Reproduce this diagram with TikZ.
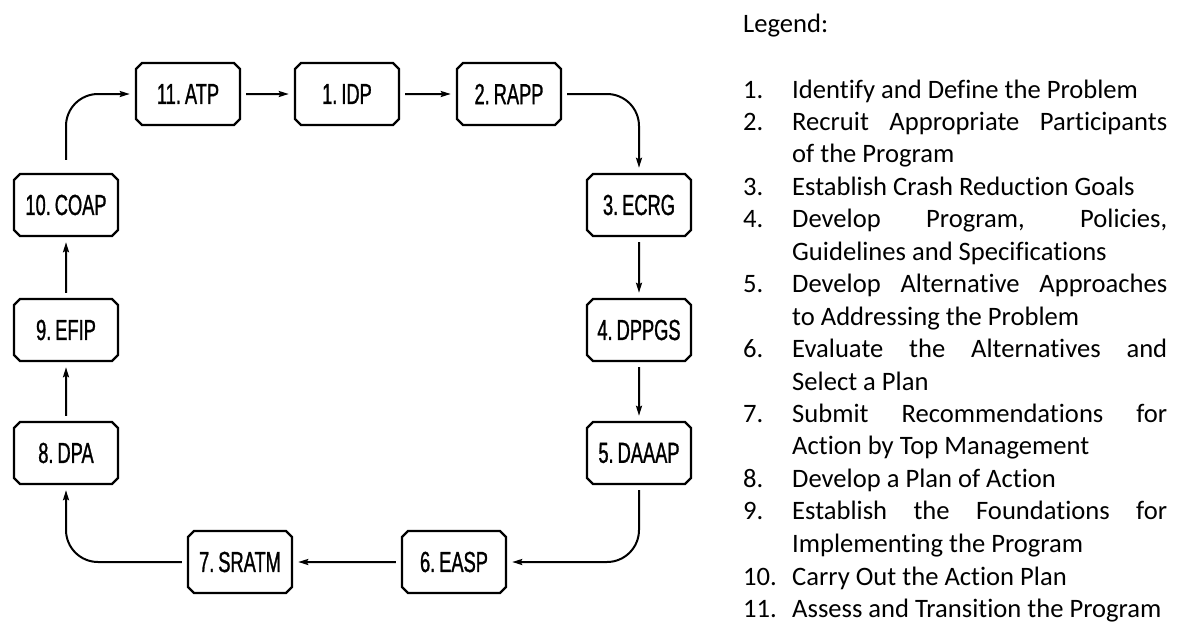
\documentclass[tikz,border=0pt]{standalone}
\usepackage{fontspec}
\setmainfont{Carlito}[Ligatures={NoCommon,NoContextual,NoRare}]
\newfontfamily\boxfont[FakeStretch=0.63,FakeBold=1,WordSpace=0.45]{Liberation Sans}
\usetikzlibrary{shapes.misc,arrows.meta}
\begin{document}
\begin{tikzpicture}[x=1pt,y=-1pt,
  stepbox/.style={draw, line width=2.4pt, chamfered rectangle,
    chamfered rectangle xsep=3pt, chamfered rectangle ysep=3pt,
    minimum width=104pt, minimum height=62pt, inner sep=0pt,
    font=\boxfont\fontsize{29}{31}\selectfont},
  conn/.style={line width=2pt, -{Stealth[length=10pt,width=6pt,inset=1.5pt]},
    shorten <=5pt, shorten >=5pt},
  legtext/.style={anchor=base west, inner sep=0pt, font=\fontsize{26.6}{32}\selectfont}]
\useasboundingbox (0,0) rectangle (1179,622);

% process boxes
\node[stepbox] (atp)   at (188,94)  {11. ATP};
\node[stepbox] (idp)   at (347,94)  {1. IDP};
\node[stepbox] (rapp)  at (509,94)  {2. RAPP};
\node[stepbox] (ecrg)  at (639,205) {3. ECRG};
\node[stepbox] (dppgs) at (639,330) {4. DPPGS};
\node[stepbox] (daaap) at (639,453) {5. DAAAP};
\node[stepbox] (easp)  at (454,562) {6. EASP};
\node[stepbox] (sratm) at (240,562) {7. SRATM};
\node[stepbox] (dpa)   at (66,453)  {8. DPA};
\node[stepbox] (efip)  at (66,330)  {9. EFIP};
\node[stepbox] (coap)  at (66,205)  {10. COAP};

% cycle connectors
\draw[conn] (atp) -- (idp);
\draw[conn] (idp) -- (rapp);
\draw[conn, rounded corners=32pt] (rapp.east) -| (ecrg.north);
\draw[conn] (ecrg) -- (dppgs);
\draw[conn] (dppgs) -- (daaap);
\draw[conn, rounded corners=32pt] (daaap.south) |- (easp.east);
\draw[conn] (easp) -- (sratm);
\draw[conn, rounded corners=32pt] (sratm.west) -| (dpa.south);
\draw[conn] (dpa) -- (efip);
\draw[conn] (efip) -- (coap);
\draw[conn, rounded corners=32pt, shorten <=13pt] (coap.north) |- (atp.west);

% legend
\node[legtext] (leg) at (743,32) {Legend:};
\node[legtext] (n1) at (743,98) {1.};
\node[legtext] (t1) at (792,98) {Identify and Define the Problem};
\node[legtext] (n2) at (743,130) {2.};
\node[legtext] (t2a) at (792,130) {\makebox[375pt][s]{Recruit Appropriate Participants}};
\node[legtext] (t2b) at (792,162) {of the Program};
\node[legtext] (n3) at (743,195) {3.};
\node[legtext] (t3) at (792,195) {Establish Crash Reduction Goals};
\node[legtext] (n4) at (743,227) {4.};
\node[legtext] (t4a) at (792,227) {\makebox[375pt][s]{Develop Program, Policies,}};
\node[legtext] (t4b) at (792,260) {Guidelines and Specifications};
\node[legtext] (n5) at (743,292) {5.};
\node[legtext] (t5a) at (792,292) {\makebox[375pt][s]{Develop Alternative Approaches}};
\node[legtext] (t5b) at (792,325) {to Addressing the Problem};
\node[legtext] (n6) at (743,357) {6.};
\node[legtext] (t6a) at (792,357) {\makebox[375pt][s]{Evaluate the Alternatives and}};
\node[legtext] (t6b) at (792,390) {Select a Plan};
\node[legtext] (n7) at (743,422) {7.};
\node[legtext] (t7a) at (792,422) {\makebox[375pt][s]{Submit Recommendations for}};
\node[legtext] (t7b) at (792,454) {Action by Top Management};
\node[legtext] (n8) at (743,487) {8.};
\node[legtext] (t8) at (792,487) {Develop a Plan of Action};
\node[legtext] (n9) at (743,519) {9.};
\node[legtext] (t9a) at (792,519) {\makebox[375pt][s]{Establish the Foundations for}};
\node[legtext] (t9b) at (792,552) {Implementing the Program};
\node[legtext] (n10) at (743,585) {10.};
\node[legtext] (t10) at (792,585) {Carry Out the Action Plan};
\node[legtext] (n11) at (743,617) {11.};
\node[legtext] (t11) at (792,617) {Assess and Transition the Program};
\end{tikzpicture}
\end{document}
